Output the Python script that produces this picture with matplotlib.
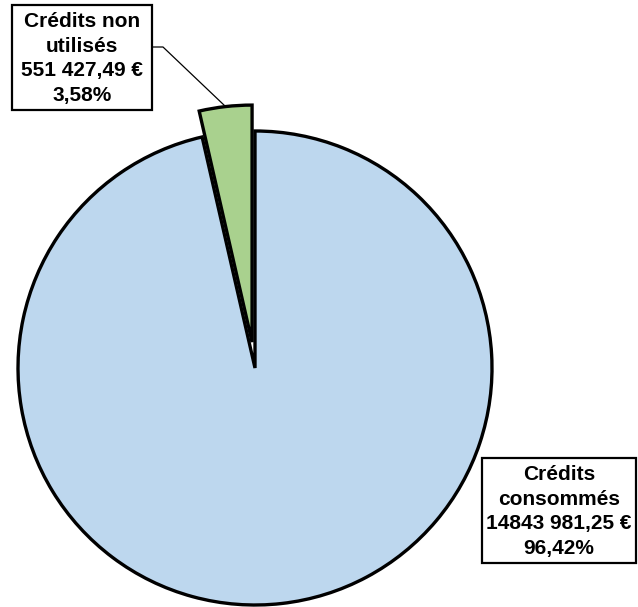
import matplotlib
matplotlib.use("Agg")
import matplotlib.pyplot as plt
from matplotlib.patches import Rectangle

# data
names = ["Crédits non\nutilisés", "Crédits\nconsommés"]
amounts = [551427.49, 14843981.25]
colors = ["#A9D18E", "#BDD7EE"]


def fmt_euro(v):
    # the source only separates the last group of thousands
    s = f"{v:.2f}"
    ent, dec = s.split(".")
    return f"{ent[:-3]} {ent[-3:]},{dec} €"


total = sum(amounts)
labels = [f"{n}\n{fmt_euro(a)}\n{a / total * 100:.2f}%".replace(".", ",")
          for n, a in zip(names, amounts)]

plt.rcParams["font.family"] = ["Liberation Sans", "DejaVu Sans"]

W, H = 638, 607
R = 237
fig = plt.figure(figsize=(W / 100, H / 100), dpi=100)
ax = fig.add_axes([0, 0, 1, 1])

# explode offset is in data units (pixels here)
ax.pie(amounts, colors=colors, explode=[0.11 * R, 0], startangle=90,
       center=(255, H - 368), radius=R,
       wedgeprops=dict(edgecolor="black", linewidth=2.4))
ax.set_xlim(0, W)
ax.set_ylim(0, H)
ax.set_aspect("equal")
ax.axis("off")

# label boxes (pixel coords, y up)
boxes = [(12, H - 110, 140, 105), (482, H - 563, 154, 105)]
for (x, y, w, h), lab in zip(boxes, labels):
    ax.add_patch(Rectangle((x, y), w, h, facecolor="white", edgecolor="black",
                           linewidth=1.6, zorder=5))
    ax.text(x + w / 2, y + h / 2 - 1, lab, ha="center", va="center",
            multialignment="center", fontsize=15, fontweight="bold",
            linespacing=1.36, zorder=6)

# leader line for the small slice
ax.plot([152, 163, 225], [H - 47, H - 47, H - 106], color="black",
        linewidth=0.9, zorder=4)

fig.savefig("out.png", dpi=100)
